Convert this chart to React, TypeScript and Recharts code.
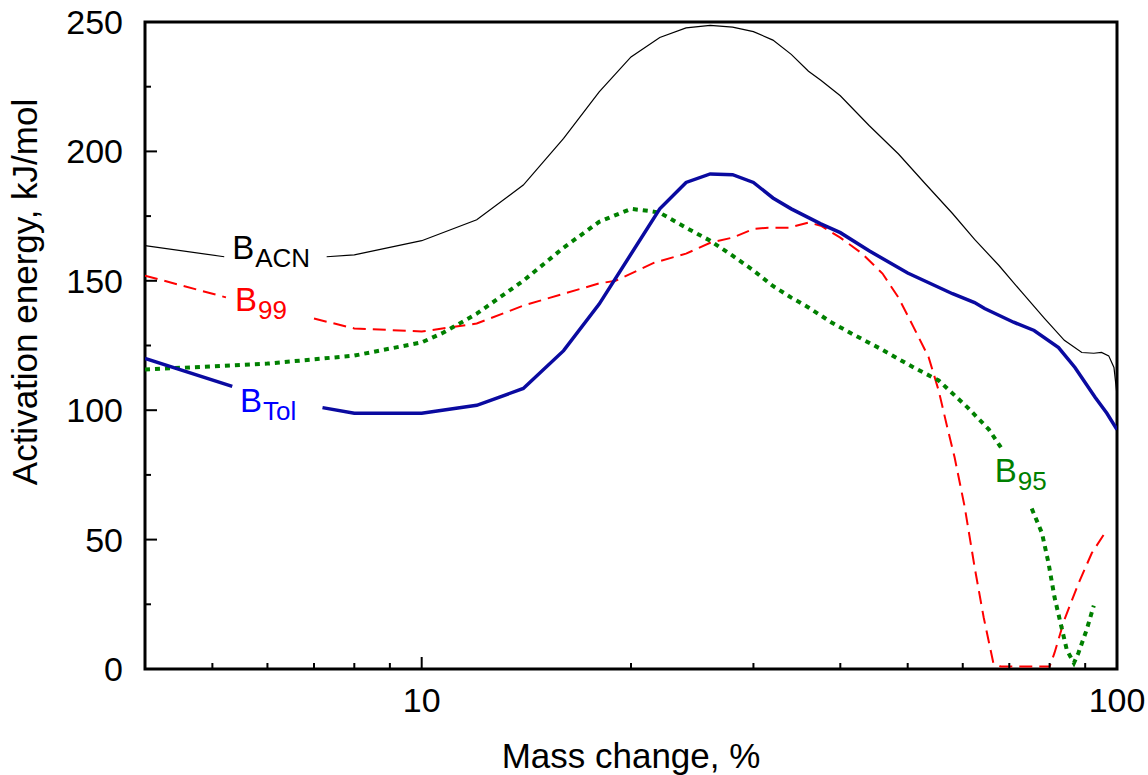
import React from 'react';
import { LineChart, Line, XAxis, YAxis, ReferenceArea, ReferenceDot } from 'recharts';

// mass change, % (log axis) and activation energy, kJ/mol
// null = break in the line where the curve label sits
const acnX = [4, 5.2, 6.2, 7.3, 8, 10, 12, 14, 16, 18, 20, 22, 24, 26, 28, 30, 32, 34, 36, 37.5, 40, 44, 48.5, 53, 58, 62.4, 67.6, 73, 78.7, 84, 89, 92.6, 95, 97.3, 99, 100];
const acnY = [163.6, 159.3, null, 159.3, 160, 165.5, 173.6, 187, 205, 223, 236.5, 244, 247.7, 248.7, 248, 246.3, 243, 237.5, 231, 227.5, 221.5, 210, 199, 187.5, 176, 166, 156, 145.5, 135.4, 127, 122.3, 122, 122.3, 121, 116.5, 106];

const tolX = [4, 5.34, 6.2, 7.2, 8, 10, 12, 14, 16, 18, 22, 24, 26, 28, 30, 32, 34, 36, 37.5, 40, 44, 50, 58, 62.4, 64.5, 71, 76, 82.4, 87, 93, 96.7, 100];
const tolY = [120, 109.2, null, 101, 98.8, 98.8, 101.9, 108.4, 123, 141, 177.8, 188, 191.3, 191, 188, 182, 177.8, 174.4, 172, 168.6, 161.6, 153, 145, 141.6, 139.3, 134, 130.8, 124.2, 116.5, 105, 98.8, 92.5];

const b99X = [4, 5.23, 6.1, 7, 8, 10, 12, 14, 16, 18, 19, 21.6, 24, 26, 28, 30, 31.5, 33.7, 36, 37.5, 40, 43, 46, 48.5, 51, 53.6, 55.4, 57, 58.4, 60.4, 62.4, 64.3, 66.4, 68, 80, 81.3, 84, 88, 92, 96];
const b99Y = [152, 143.6, null, 135.4, 131.6, 130.4, 133.5, 140.4, 145, 149, 150, 157, 160.5, 164.7, 166.7, 170, 170.5, 170.5, 172.5, 171.3, 166.7, 160.5, 152.8, 143.5, 132, 120.4, 107.6, 93.4, 81.8, 62.5, 39.4, 20, 2.3, 1, 1, 6.2, 19, 33, 44.8, 52.5];

const b95X = [4, 6, 8, 10, 10.75, 12, 14, 16, 18, 20, 21.2, 22, 24, 26, 28, 30, 32, 34, 36, 38.8, 42, 45.5, 51, 55.4, 61, 65.4, 68.2, 72, 75.4, 78, 79.7, 81.3, 83.2, 84.7, 86.7, 88, 90.4, 92.6];
const b95Y = [115.7, 118, 121.1, 126.2, 130, 137.3, 150, 162.8, 172.8, 177.8, 177, 176.3, 170.5, 165.5, 159.7, 154, 148, 143.5, 139.7, 134, 128.9, 124, 116.5, 111.5, 101, 92.6, 85.3, null, 62, 52.5, 41, 27.8, 16.2, 7.3, 2.3, 6.2, 15, 24.5];

const xTicks = [5, 6, 7, 8, 9, 10, 20, 30, 40, 50, 60, 70, 80, 90, 100];
const xLabelled = [10, 100];
const yTicks = [0, 25, 50, 75, 100, 125, 150, 175, 200, 225, 250];

// curve labels: [main, subscript, colour, x, y]
const curveLabels: [string, string, string, number, number][] = [
  ['B', 'ACN', '#000000', 5.34, 158.6],
  ['B', '99', '#ff0000', 5.39, 138.5],
  ['B', 'Tol', '#0000ff', 5.48, 99.2],
  ['B', '95', '#008000', 66.7, 72.1],
];

const zip = (xs: number[], ys: (number | null)[]) => xs.map((x, i) => ({ x, y: ys[i] }));

const FONT = '"Liberation Sans", Arial, sans-serif';

const XTick = (props: any) => {
  const { x, y, payload } = props;
  const major = xLabelled.includes(payload.value);
  return (
    <g>
      <line x1={x} x2={x} y1={y} y2={y - (major ? 12 : 6)} stroke="#000" strokeWidth={2} />
      {major && (
        <text x={x} y={y + 43} textAnchor="middle" fontSize={34} fontFamily={FONT} fill="#000">
          {payload.value}
        </text>
      )}
    </g>
  );
};

const YTick = (props: any) => {
  const { x, y, payload } = props;
  const major = payload.value % 50 === 0;
  return (
    <g>
      <line x1={x} x2={x + (major ? 12 : 6)} y1={y} y2={y} stroke="#000" strokeWidth={2} />
      {major && (
        <text x={x - 22} y={y + 12} textAnchor="end" fontSize={34} fontFamily={FONT} fill="#000">
          {payload.value}
        </text>
      )}
    </g>
  );
};

const App = () => {
  return (
    <div style={{ position: 'absolute', left: 0, top: 0, background: '#fff' }}>
      <LineChart width={1148} height={775} margin={{ top: 22, right: 31, left: 0, bottom: 0 }}>
        <XAxis
          dataKey="x"
          type="number"
          scale="log"
          domain={[4, 100]}
          allowDataOverflow
          ticks={xTicks}
          interval={0}
          height={106}
          tickSize={0}
          tickMargin={0}
          axisLine={false}
          tickLine={false}
          tick={<XTick />}
          label={{
            content: () => (
              <text x={631} y={768} textAnchor="middle" fontSize={35} fontFamily={FONT} fill="#000">
                Mass change, %
              </text>
            ),
          }}
        />
        <YAxis
          type="number"
          domain={[0, 250]}
          ticks={yTicks}
          interval={0}
          width={145}
          tickSize={0}
          tickMargin={0}
          axisLine={false}
          tickLine={false}
          tick={<YTick />}
          label={{
            content: () => (
              <text
                x={37}
                y={292}
                transform="rotate(-90 37 292)"
                textAnchor="middle"
                fontSize={35}
                fontFamily={FONT}
                fill="#000"
              >
                Activation energy, kJ/mol
              </text>
            ),
          }}
        />
        <Line data={zip(acnX, acnY)} dataKey="y" type="linear" stroke="#000" strokeWidth={1.2} dot={false} isAnimationActive={false} />
        <Line data={zip(b99X, b99Y)} dataKey="y" type="linear" stroke="#ff0000" strokeWidth={2} strokeDasharray="13 7" dot={false} isAnimationActive={false} />
        <Line data={zip(b95X, b95Y)} dataKey="y" type="linear" stroke="#008000" strokeWidth={4} strokeDasharray="5 5" dot={false} isAnimationActive={false} />
        <Line data={zip(tolX, tolY)} dataKey="y" type="linear" stroke="#0a0aa0" strokeWidth={3.5} dot={false} isAnimationActive={false} />
        {curveLabels.map(([main, sub, color, lx, ly]) => (
          <ReferenceDot
            key={sub}
            x={lx}
            y={ly}
            r={0}
            ifOverflow="visible"
            shape={(p: any) => (
              <text x={p.cx} y={p.cy} fill={color} fontFamily={FONT} fontSize={33}>
                <tspan>{main}</tspan>
                <tspan dx={1} dy={8} fontSize={26}>{sub}</tspan>
              </text>
            )}
          />
        ))}
        <ReferenceArea x1={4} x2={100} y1={0} y2={250} fill="none" stroke="#000" strokeWidth={3} ifOverflow="visible" />
      </LineChart>
    </div>
  );
};

export default App;
